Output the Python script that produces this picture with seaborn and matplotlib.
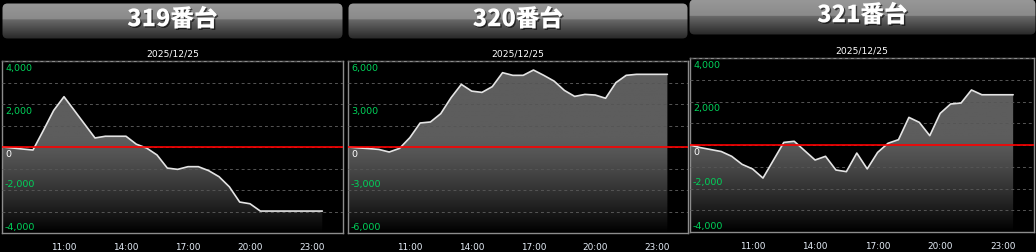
import numpy as np
import pandas as pd
import matplotlib
matplotlib.use("Agg")
import matplotlib.pyplot as plt
import matplotlib.transforms as mtransforms
import matplotlib.patheffects as pe
from matplotlib.patches import FancyBboxPatch
import seaborn as sns

# ---------------- data ----------------
times = ["08:00", "08:30", "09:00", "09:30", "10:00", "10:30", "11:00", "11:30",
         "12:00", "12:30", "13:00", "13:30", "14:00", "14:30", "15:00", "15:30",
         "16:00", "16:30", "17:00", "17:30", "18:00", "18:30", "19:00", "19:30",
         "20:00", "20:30", "21:00", "21:30", "22:00", "22:30", "23:00", "23:30"]

m319 = [0, -45, -95, -140, 770, 1700, 2340, 1700, 1060, 420, 500, 500, 500, 130, -50, -370,
        -980, -1040, -915, -915, -1100, -1380, -1850, -2560, -2640, -2980, -2980, -2980,
        -2980, -2980, -2980, -2980]
m320 = [0, -60, -110, -170, -350, -95, 650, 1675, 1745, 2325, 3440, 4370, 3900, 3810, 4210, 5185,
        5000, 5000, 5370, 5000, 4600, 3950, 3530, 3670, 3625, 3400, 4490, 5000, 5070, 5070,
        5070, 5070]
m321 = [0, -120, -210, -300, -520, -890, -1100, -1520, -700, 120, 170, -260, -690, -520, -1150, -1225,
        -370, -1100, -340, 80, 245, 1270, 1040, 430, 1455, 1885, 1930, 2530, 2310, 2310,
        2310, 2310]

machines = ["319番台", "320番台", "321番台"]
date_label = "2025/12/25"
y_limits = [4000, 6000, 4000]
label_steps = [2000, 3000, 2000]
grid_steps = [1000, 1500, 1000]
x_ticks = ["11:00", "14:00", "17:00", "20:00", "23:00"]
series = [m319, m320, m321]

# ---------------- style ----------------
sns.set_theme(style="dark")
plt.rcParams["font.family"] = ["DejaVu Sans"]

W, H = 1036, 253
fig = plt.figure(figsize=(W / 100, H / 100), dpi=100, facecolor="black")


def hours(t):
    h, m = t.split(":")
    return int(h) + int(m) / 60.0


# pixel layout (left, top, right, bottom)
axes_px = [(2, 62, 343, 234), (348, 62, 688, 234), (690, 59, 1034, 233)]
head_px = [(2, 4, 343, 40), (348, 4, 688, 40), (689, 0, 1036, 36)]

GREEN = "#00d25a"


def header(box, text):
    l, t, r, b = box
    w, h = r - l, b - t
    hax = fig.add_axes([l / W, (H - b) / H, w / W, h / H])
    hax.set_xlim(0, w)
    hax.set_ylim(0, h)
    hax.axis("off")
    tt = np.linspace(0, 1, 64)
    c = np.where(tt < 0.47,
                 (0x98 + (0x8a - 0x98) * tt / 0.47),
                 (0x6a + (0x28 - 0x6a) * (tt - 0.47) / 0.53)) / 255.0
    img = np.dstack([c, c, c]).reshape(64, 1, 3)
    im = hax.imshow(img, extent=[0, w, 0, h], aspect="auto", origin="upper")
    patch = FancyBboxPatch((0.5, 0.5), w - 1, h - 1,
                           boxstyle="round,pad=0,rounding_size=5",
                           facecolor="none", edgecolor="none")
    hax.add_patch(patch)
    im.set_clip_path(patch)
    hax.text(w / 2, h / 2 + 2, text, ha="center", va="center", color="white",
             fontsize=17, fontweight="heavy",
             family=["Noto Sans CJK JP", "DejaVu Sans"],
             path_effects=[pe.withSimplePatchShadow(offset=(1, -1), shadow_rgbFace="black", alpha=0.6)])


for i in range(3):
    l, t, r, b = axes_px[i]
    ax = fig.add_axes([l / W, (H - b) / H, (r - l) / W, (b - t) / H])
    ax.set_facecolor("black")
    ylim = y_limits[i]
    x = [hours(s) for s in times]
    y = series[i]
    df = pd.DataFrame({"time": x, "value": y})

    # gradient fill under the line
    poly = ax.fill_between(df["time"], df["value"], -ylim, color="none", lw=0)
    tt = np.linspace(0, 1, 256)
    base = 0x5d / 255.0
    c = np.where(tt < 0.45, base, base * (1 - ((tt - 0.45) / 0.55) ** 1.3))
    c = np.clip(c, 0, 1)
    img = np.dstack([c, c, c]).reshape(256, 1, 3)
    im = ax.imshow(img, extent=[x[0], x[-1], -ylim, ylim], aspect="auto",
                   origin="upper", zorder=1)
    im.set_clip_path(poly.get_paths()[0], transform=ax.transData)

    sns.lineplot(data=df, x="time", y="value", ax=ax, color="#e4e4e4",
                 linewidth=1.2, zorder=3)

    ax.axhline(0, color="#ff0000", lw=1.2, zorder=4)

    ax.set_xlim(8, 24.5)
    ax.set_ylim(-ylim, ylim)
    ax.set_yticks(np.arange(-ylim, ylim + 1, grid_steps[i]))
    ax.set_yticklabels([])
    ax.tick_params(axis="y", length=0)
    ax.grid(axis="y", color="#555555", linestyle=(0, (3, 3)), linewidth=0.7, zorder=2)
    ax.grid(axis="x", visible=False)
    ax.set_axisbelow(False)
    for ln in ax.get_ygridlines():
        ln.set_zorder(2)

    ax.set_xticks([hours(s) for s in x_ticks])
    ax.set_xticklabels(x_ticks)
    ax.tick_params(axis="x", length=0, pad=6.5, labelsize=6.4, colors="#e6eef8")
    ax.set_xlabel("")
    ax.set_ylabel("")

    for sp in ax.spines.values():
        sp.set_color("#8c8c8c")
        sp.set_linewidth(1.0)
        sp.set_visible(True)

    # y labels inside the plot
    for v in np.arange(-ylim, ylim + 1, label_steps[i]):
        col = "white" if v == 0 else GREEN
        if v >= 0:
            tr = mtransforms.offset_copy(ax.get_yaxis_transform(), fig=fig, x=3, y=-2, units="dots")
            va = "top"
        else:
            tr = mtransforms.offset_copy(ax.get_yaxis_transform(), fig=fig, x=3, y=4, units="dots")
            va = "baseline"
        ax.text(0, v, f"{int(v):,}", transform=tr, ha="left", va=va,
                color=col, fontsize=6.8, zorder=6)

    ax.set_title(date_label, color="white", fontsize=6.6, pad=4)

    header(head_px[i], machines[i])

fig.savefig("out.png", dpi=100, facecolor="black")
